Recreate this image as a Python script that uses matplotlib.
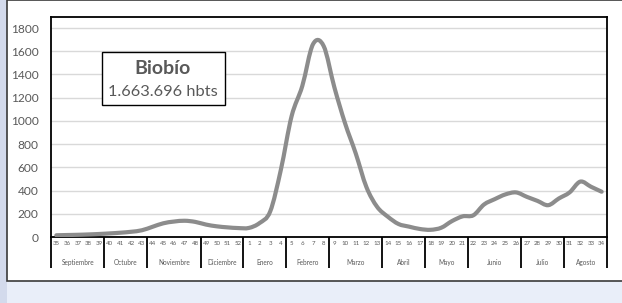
"""
Casos semanales - Biobío (semanas epidemiológicas 35 a 34).
"""

import numpy as np
import matplotlib.pyplot as plt
from matplotlib.path import Path
from matplotlib.patches import PathPatch, Rectangle
from matplotlib.transforms import blended_transform_factory

plt.rcParams["font.family"] = ["Lato", "DejaVu Sans"]

# Data
weeks = list(range(35, 53)) + list(range(1, 35))
values = [15, 17, 19, 22, 26, 31, 37, 45, 58, 88, 118, 133, 140, 130, 107, 92, 83, 77,
          78, 120, 220, 580, 1040, 1300, 1660, 1645, 1290, 980, 720, 430, 260, 175, 112,
          89, 69, 62, 80, 137, 178, 187, 280, 326, 367, 384, 346, 311, 274, 332, 384,
          477, 433, 390]
months = ["Septiembre", "Octubre", "Noviembre", "Diciembre", "Enero", "Febrero",
          "Marzo", "Abril", "Mayo", "Junio", "Julio", "Agosto"]
weeks_per_month = [5, 4, 5, 4, 4, 4, 5, 4, 4, 5, 4, 4]
region = "Biobío"
population = "1.663.696 hbts"

GREY_TXT = "#595959"
LINE = "#8c8c8c"


def smooth_path(x, y):
    """Excel-like smoothed line: cubic Bezier segments (Catmull-Rom control points)."""
    pts = np.column_stack([x, y]).astype(float)
    verts = [pts[0]]
    codes = [Path.MOVETO]
    n = len(pts)
    for i in range(n - 1):
        p0 = pts[i - 1] if i > 0 else pts[i]
        p1 = pts[i]
        p2 = pts[i + 1]
        p3 = pts[i + 2] if i + 2 < n else pts[i + 1]
        c1 = p1 + (p2 - p0) / 6.0
        c2 = p2 - (p3 - p1) / 6.0
        verts += [c1, c2, p2]
        codes += [Path.CURVE4] * 3
    return Path(verts, codes)


fig = plt.figure(figsize=(6.22, 3.03), dpi=100)
fig.patch.set_facecolor("#e9eef9")

# white chart panel with its frame (behind the axes)
fig.patches.append(Rectangle((0, 0), 7 / 622, 1, transform=fig.transFigure,
                             facecolor="#d3daec", edgecolor="none", zorder=-2))
fig.patches.append(Rectangle((7 / 622, 1 - 281 / 303), 1.0, 281 / 303, transform=fig.transFigure,
                             facecolor="white", edgecolor="#3a3a3a", linewidth=1.2, zorder=-1))

ax = fig.add_axes([51 / 622, 1 - 237 / 303, 556 / 622, 220 / 303])
ax.set_zorder(1)
ax.set_facecolor("white")

x = np.arange(len(weeks))
ax.add_patch(PathPatch(smooth_path(x, values), facecolor="none", edgecolor=LINE,
                       linewidth=3.0, capstyle="round", joinstyle="round", zorder=3))

ax.set_xlim(-0.5, len(weeks) - 0.5)
ax.set_ylim(0, 1895)
ax.set_yticks(range(0, 1801, 200))
ax.yaxis.grid(True, color="#d9d9d9", linewidth=1.0)
ax.set_axisbelow(True)
ax.tick_params(axis="y", length=0, pad=9, labelsize=8.6, labelcolor=GREY_TXT)

ax.set_xticks(x)
ax.set_xticklabels([str(w) for w in weeks], fontsize=4.4, color=GREY_TXT)
ax.tick_params(axis="x", length=0, pad=3)

for sp in ax.spines.values():
    sp.set_color("black")
    sp.set_linewidth(1.3)

# month groups under the week labels
trans = blended_transform_factory(ax.transData, ax.transAxes)
edges = np.concatenate([[0], np.cumsum(weeks_per_month)]) - 0.5
for e in edges:
    ax.plot([e, e], [0, -0.14], transform=trans, color="black", linewidth=1.3,
            clip_on=False, solid_capstyle="butt")
for m, a, b in zip(months, edges[:-1], edges[1:]):
    ax.text((a + b) / 2, -0.117, m, transform=trans, ha="center", va="center",
            fontsize=4.7, color=GREY_TXT)

# label box
ax.add_patch(Rectangle((0.0917, 0.60), 0.2212, 0.241, transform=ax.transAxes,
                       facecolor="white", edgecolor="black", linewidth=1.0, zorder=4))
ax.text(0.2014, 0.765, region, transform=ax.transAxes, ha="center", va="center",
        fontsize=14, fontweight="bold", color=GREY_TXT, zorder=5)
ax.text(0.2014, 0.657, population, transform=ax.transAxes, ha="center", va="center",
        fontsize=11.8, color=GREY_TXT, zorder=5)

fig.savefig("out.png", dpi=100, facecolor=fig.get_facecolor())
